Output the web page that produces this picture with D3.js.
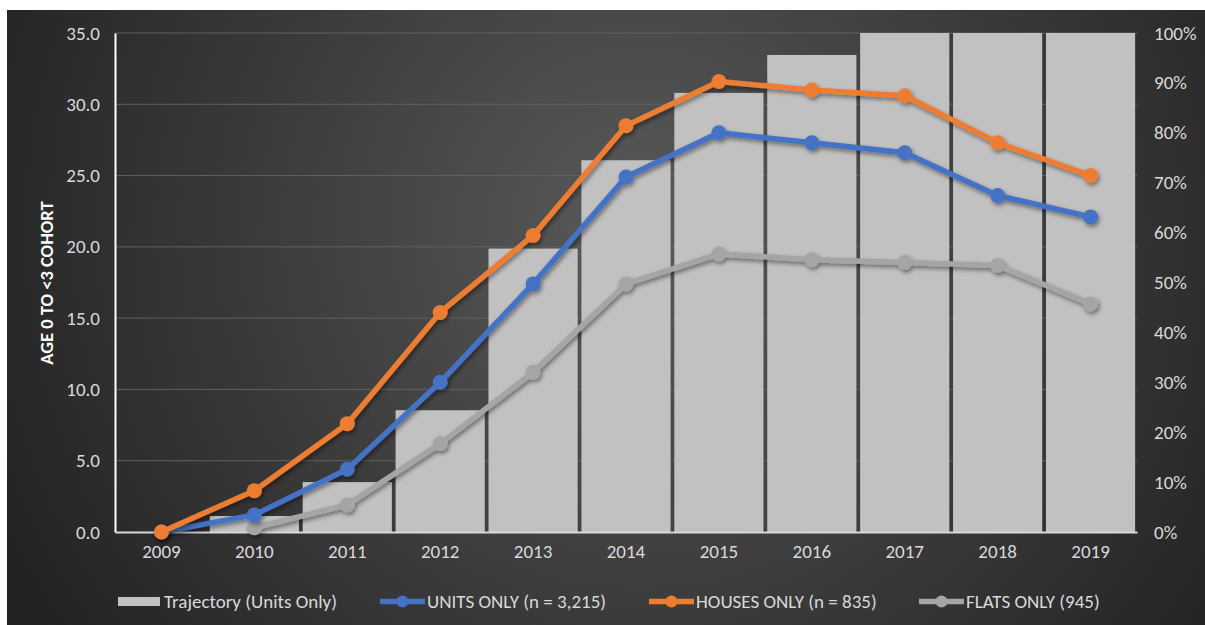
<!DOCTYPE html>
<html><head><meta charset="utf-8">
<script src="https://cdn.jsdelivr.net/npm/d3@7"></script>
<style>
html,body{margin:0;padding:0;background:#fff;}
text{font-family:Carlito,Lato,"Open Sans",sans-serif;}
</style></head>
<body>
<svg id="c" width="1205" height="625"></svg>
<script>
const years = ["2009","2010","2011","2012","2013","2014","2015","2016","2017","2018","2019"];
const trajectory = [0, 3.2, 10.0, 24.4, 56.8, 74.5, 88.0, 95.6, 100, 100, 100];
const unitsOnly = [0, 1.2, 4.4, 10.5, 17.4, 24.9, 28.0, 27.3, 26.6, 23.6, 22.1];
const housesOnly = [0, 2.9, 7.6, 15.4, 20.8, 28.5, 31.6, 31.0, 30.6, 27.3, 25.0];
const flatsOnly = [null, 0.3, 1.9, 6.2, 11.2, 17.4, 19.5, 19.1, 18.9, 18.7, 16.0];
const leftTicks = [0,5,10,15,20,25,30,35];
const rightTicks = [0,10,20,30,40,50,60,70,80,90,100];
const seriesNames = ["Trajectory (Units Only)","UNITS ONLY (n = 3,215)","HOUSES ONLY (n = 835)","FLATS ONLY (945)"];
const yTitle = "AGE 0 TO <3 COHORT";

const svg = d3.select("#c");
const defs = svg.append("defs");
const rg = defs.append("radialGradient").attr("id","bg")
  .attr("gradientUnits","userSpaceOnUse").attr("cx",640).attr("cy",230).attr("r",720);
rg.append("stop").attr("offset","0%").attr("stop-color","#5a5a5a");
rg.append("stop").attr("offset","55%").attr("stop-color","#3a3a3a");
rg.append("stop").attr("offset","100%").attr("stop-color","#222222");
const f = defs.append("filter").attr("id","sh").attr("x","-10%").attr("y","-10%").attr("width","120%").attr("height","130%");
f.append("feDropShadow").attr("dx",1.5).attr("dy",2.5).attr("stdDeviation",2).attr("flood-color","#000").attr("flood-opacity",0.45);

svg.append("rect").attr("x",7).attr("y",10).attr("width",1198).attr("height",615).attr("fill","url(#bg)");

const L = 115, R = 1137, T = 33, B = 532;
const x = d3.scaleBand().domain(years).range([L,R]).paddingInner(0.04).paddingOuter(0.02);
const xc = d => x(d) + x.bandwidth()/2;
const yL = d3.scaleLinear().domain([0,35]).range([B,T]);
const yR = d3.scaleLinear().domain([0,100]).range([B,T]);
const FS = 19;

// gridlines
svg.append("g").selectAll("line").data(leftTicks.slice(1)).join("line")
  .attr("x1",L).attr("x2",R).attr("y1",d=>yL(d)).attr("y2",d=>yL(d))
  .attr("stroke","#606060").attr("stroke-width",1);

// bars
svg.append("g").selectAll("rect").data(years).join("rect")
  .attr("x",d=>x(d)).attr("width",x.bandwidth())
  .attr("y",(d,i)=>yR(trajectory[i])).attr("height",(d,i)=>B-yR(trajectory[i]))
  .attr("fill","#c1c1c1");

// axes
const axL = d3.axisLeft(yL).tickValues(leftTicks).tickFormat(d3.format(".1f")).tickSize(0).tickPadding(15);
const gL = svg.append("g").attr("transform",`translate(${L},0)`).call(axL);
gL.select(".domain").attr("stroke","#ffffff").attr("stroke-width",2);
gL.selectAll("text").attr("fill","#d9d9d9").attr("font-size",FS);

const axR = d3.axisRight(yR).tickValues(rightTicks).tickFormat(d=>d+"%").tickSize(0).tickPadding(17);
const gR = svg.append("g").attr("transform",`translate(${R},0)`).call(axR);
gR.select(".domain").remove();
gR.selectAll("text").attr("fill","#d9d9d9").attr("font-size",FS);

const axB = d3.axisBottom(x).tickSize(0).tickPadding(13);
const gB = svg.append("g").attr("transform",`translate(0,${B})`).call(axB);
gB.select(".domain").attr("stroke","#d9d9d9").attr("stroke-width",2);
gB.selectAll("text").attr("fill","#d9d9d9").attr("font-size",FS);

svg.append("text").attr("transform","translate(53,283) rotate(-90)")
  .attr("text-anchor","middle").attr("fill","#ffffff").attr("font-weight","bold")
  .attr("font-size",18.5).text(yTitle);

// lines
const series = [
  {vals: unitsOnly, color:"#4472c4"},
  {vals: housesOnly, color:"#ed7d31"},
  {vals: flatsOnly, color:"#a5a5a5"}
];
const drawOrder = [2,0,1];
const line = d3.line().defined(d=>d.v!==null).x(d=>xc(d.k)).y(d=>yL(d.v));
drawOrder.forEach(si=>{
  const s = series[si];
  const data = years.map((k,i)=>({k, v:s.vals[i]}));
  const g = svg.append("g").attr("filter","url(#sh)");
  g.append("path").datum(data).attr("d",line).attr("fill","none")
    .attr("stroke",s.color).attr("stroke-width",5.5).attr("stroke-linejoin","round");
  g.selectAll("circle").data(data.filter(d=>d.v!==null)).join("circle")
    .attr("cx",d=>xc(d.k)).attr("cy",d=>yL(d.v)).attr("r",7.5).attr("fill",s.color);
});

// legend
const lg = svg.append("g");
lg.append("rect").attr("x",118).attr("y",597).attr("width",42).attr("height",9).attr("fill","#c1c1c1");
lg.append("text").attr("x",164).attr("y",608).attr("fill","#d9d9d9").attr("font-size",FS).text(seriesNames[0]);
const lgItems = [
  {x:380, tx:427, color:"#4472c4", name:seriesNames[1]},
  {x:649, tx:696, color:"#ed7d31", name:seriesNames[2]},
  {x:919, tx:966, color:"#a5a5a5", name:seriesNames[3]}
];
lgItems.forEach(it=>{
  lg.append("line").attr("x1",it.x).attr("x2",it.x+45).attr("y1",601.5).attr("y2",601.5)
    .attr("stroke",it.color).attr("stroke-width",5.5);
  lg.append("circle").attr("cx",it.x+22.5).attr("cy",601.5).attr("r",6).attr("fill",it.color);
  lg.append("text").attr("x",it.tx).attr("y",608).attr("fill","#d9d9d9").attr("font-size",FS).text(it.name);
});
</script>
</body></html>
